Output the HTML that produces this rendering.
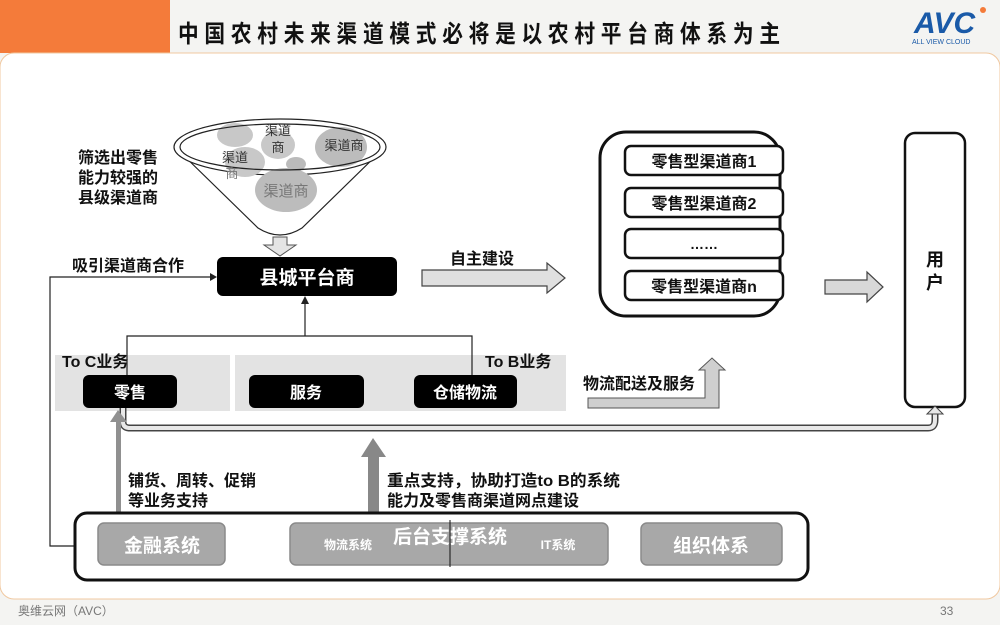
<!DOCTYPE html>
<html><head><meta charset="utf-8"><style>
html,body{margin:0;padding:0;width:1000px;height:625px;overflow:hidden;background:#f4f4f2}
svg{display:block}
text{font-family:"Liberation Sans","Noto Sans CJK SC","WenQuanYi Zen Hei",sans-serif}
.b{font-weight:bold}
</style></head><body>
<svg width="1000" height="625" viewBox="0 0 1000 625" xmlns="http://www.w3.org/2000/svg">
<rect x="0" y="0" width="1000" height="625" fill="#f4f4f2"/>
<rect x="0" y="0" width="170" height="53" fill="#f47b3a"/>
<rect x="0" y="53" width="1000" height="546" rx="14" fill="#ffffff" stroke="#f0c8a0" stroke-width="1"/>
<text x="178" y="42" font-size="24" class="b" fill="#111" textLength="602" lengthAdjust="spacingAndGlyphs">中 国 农 村 未 来 渠 道 模 式 必 将 是 以 农 村 平 台 商 体 系 为 主</text>
<text x="914" y="33" font-size="30" class="b" fill="#1a5aa8" font-style="italic">AVC</text>
<circle cx="983" cy="10" r="3" fill="#f47b3a"/>
<text x="912" y="44" font-size="7" fill="#1a5aa8">ALL VIEW CLOUD</text>
<text x="18" y="615" font-size="12" fill="#777">奥维云网（AVC）</text>
<text x="940" y="615" font-size="12" fill="#777">33</text>

<!-- funnel -->
<path d="M175,147 L258,228 Q280,242 302,228 L385,147" fill="#fff" stroke="#222" stroke-width="1.2"/>
<ellipse cx="280" cy="147" rx="106" ry="28" fill="#fff" stroke="#222" stroke-width="1.2"/>
<ellipse cx="235" cy="135" rx="18" ry="12" fill="#c8c8c8"/>
<ellipse cx="278" cy="145" rx="17" ry="14" fill="#c8c8c8"/>
<ellipse cx="341" cy="147" rx="26" ry="20" fill="#bcbcbc"/>
<ellipse cx="245" cy="162" rx="20" ry="15" fill="#c8c8c8"/>
<ellipse cx="296" cy="164" rx="10" ry="7" fill="#bbb"/>
<ellipse cx="286" cy="190" rx="31" ry="22" fill="#bcbcbc"/>
<ellipse cx="280" cy="147" rx="100" ry="23" fill="none" stroke="#222" stroke-width="1.2"/>
<text x="278" y="135" font-size="13" text-anchor="middle" fill="#333">渠道</text>
<text x="278" y="152" font-size="13" text-anchor="middle" fill="#333">商</text>
<text x="344" y="150" font-size="13" text-anchor="middle" fill="#333">渠道商</text>
<text x="235" y="162" font-size="13" text-anchor="middle" fill="#333">渠道</text>
<text x="232" y="178" font-size="13" text-anchor="middle" fill="#777">商</text>
<text x="286" y="196" font-size="15" text-anchor="middle" fill="#777">渠道商</text>
<path d="M273,237 H287 V245 H296 L280,256 L264,245 H273 Z" fill="#e4e4e4" stroke="#555" stroke-width="1"/>

<text x="78" y="163" font-size="16" class="b" fill="#111">筛选出零售</text>
<text x="78" y="183" font-size="16" class="b" fill="#111">能力较强的</text>
<text x="78" y="203" font-size="16" class="b" fill="#111">县级渠道商</text>
<text x="72" y="271" font-size="16" class="b" fill="#111">吸引渠道商合作</text>

<rect x="217" y="257" width="180" height="39" rx="6" fill="#000"/>
<text x="307" y="284" font-size="19" class="b" fill="#fff" text-anchor="middle">县城平台商</text>

<path d="M75,546 H50 V277 H212" fill="none" stroke="#222" stroke-width="1.2"/>
<path d="M217,277 L210,273 L210,281 Z" fill="#222"/>

<text x="450" y="264" font-size="16" class="b" fill="#111">自主建设</text>
<path d="M422,270 H547 V263 L565,278 L547,293 V286 H422 Z" fill="#e0e0e0" stroke="#444" stroke-width="1.2"/>

<rect x="600" y="132" width="180" height="184" rx="26" fill="#fff" stroke="#111" stroke-width="3"/>
<g stroke="#111" stroke-width="2.5" fill="#fff">
<rect x="625" y="146" width="158" height="29" rx="6"/>
<rect x="625" y="188" width="158" height="29" rx="6"/>
<rect x="625" y="229" width="158" height="29" rx="6"/>
<rect x="625" y="271" width="158" height="29" rx="6"/>
</g>
<text x="704" y="167" font-size="16" class="b" text-anchor="middle" fill="#111">零售型渠道商1</text>
<text x="704" y="209" font-size="16" class="b" text-anchor="middle" fill="#111">零售型渠道商2</text>
<text x="704" y="249" font-size="14" class="b" text-anchor="middle" fill="#111">……</text>
<text x="704" y="292" font-size="16" class="b" text-anchor="middle" fill="#111">零售型渠道商n</text>

<path d="M825,280 H867 V272 L883,287 L867,302 V294 H825 Z" fill="#d8d8d8" stroke="#444" stroke-width="1.2"/>

<rect x="905" y="133" width="60" height="274" rx="10" fill="#fff" stroke="#111" stroke-width="2.5"/>
<text x="935" y="266" font-size="18" class="b" text-anchor="middle" fill="#111">用</text>
<text x="935" y="289" font-size="18" class="b" text-anchor="middle" fill="#111">户</text>

<rect x="55" y="355" width="175" height="56" fill="#e3e3e3"/>
<rect x="235" y="355" width="331" height="56" fill="#e3e3e3"/>
<text x="62" y="367" font-size="16" class="b" fill="#111">To C业务</text>
<text x="485" y="367" font-size="16" class="b" fill="#111">To B业务</text>
<path d="M127,375 V336 H472 V375" fill="none" stroke="#222" stroke-width="1.2"/>
<path d="M305,336 V302" stroke="#222" stroke-width="1.2"/>
<path d="M305,296 L301,304 H309 Z" fill="#222"/>
<rect x="83" y="375" width="94" height="33" rx="6" fill="#000"/>
<rect x="249" y="375" width="115" height="33" rx="6" fill="#000"/>
<rect x="414" y="375" width="103" height="33" rx="6" fill="#000"/>
<text x="130" y="398" font-size="16" class="b" fill="#fff" text-anchor="middle">零售</text>
<text x="306" y="398" font-size="16" class="b" fill="#fff" text-anchor="middle">服务</text>
<text x="465" y="398" font-size="16" class="b" fill="#fff" text-anchor="middle">仓储物流</text>

<text x="583" y="389" font-size="16" class="b" fill="#111">物流配送及服务</text>
<path d="M588,398 H705 V370 H699 L712,358 L725,370 H719 V408 H588 Z" fill="#cfcfcf" stroke="#555" stroke-width="1"/>

<path d="M123,408 V422 Q123,428 130,428 H928 Q935,428 935,420 V412" fill="none" stroke="#444" stroke-width="7"/>
<path d="M123,408 V422 Q123,428 130,428 H928 Q935,428 935,420 V412" fill="none" stroke="#e8e8e8" stroke-width="4"/>
<path d="M927,414 L935,406 L943,414 Z" fill="#e8e8e8" stroke="#444" stroke-width="1"/>

<rect x="116" y="418" width="5" height="95" fill="#909090"/>
<path d="M110,422 L118,410 L127,422 Z" fill="#909090"/>
<rect x="368" y="455" width="11" height="58" fill="#888"/>
<path d="M361,457 L373,438 L386,457 Z" fill="#888"/>

<text x="128" y="486" font-size="16" class="b" fill="#111">铺货、周转、促销</text>
<text x="128" y="506" font-size="16" class="b" fill="#111">等业务支持</text>
<text x="387" y="486" font-size="16" class="b" fill="#111" textLength="233" lengthAdjust="spacingAndGlyphs">重点支持，协助打造to B的系统</text>
<text x="387" y="506" font-size="16" class="b" fill="#111">能力及零售商渠道网点建设</text>

<rect x="75" y="513" width="733" height="67" rx="12" fill="#fff" stroke="#111" stroke-width="3"/>
<g fill="#a8a8a8" stroke="#8a8a8a" stroke-width="1.5">
<rect x="98" y="523" width="127" height="42" rx="6"/>
<rect x="290" y="523" width="318" height="42" rx="6"/>
<rect x="641" y="523" width="141" height="42" rx="6"/>
</g>
<line x1="450" y1="520" x2="450" y2="567" stroke="#111" stroke-width="1"/>
<text x="162" y="552" font-size="19" class="b" fill="#fff" text-anchor="middle">金融系统</text>
<text x="348" y="549" font-size="12" class="b" fill="#fff" text-anchor="middle">物流系统</text>
<text x="450" y="543" font-size="19" class="b" fill="#fff" text-anchor="middle">后台支撑系统</text>
<text x="558" y="549" font-size="12" class="b" fill="#fff" text-anchor="middle">IT系统</text>
<text x="711" y="552" font-size="19" class="b" fill="#fff" text-anchor="middle">组织体系</text>
</svg>
</body></html>
